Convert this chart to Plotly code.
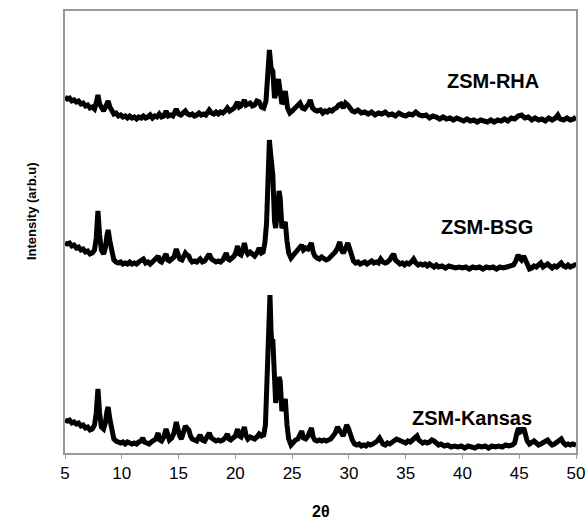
import plotly.graph_objects as go

# (2-theta, intensity) pairs; intensities are arb. units, vertically offset as drawn
rha_pts = [
    (5.0, 356), (5.2, 354), (5.4, 355), (5.6, 352), (5.8, 353), (6.0, 351), (6.2, 352), (6.4, 349), (6.6, 350),
    (6.8, 347), (7.0, 348), (7.2, 345), (7.4, 346), (7.6, 344), (7.75, 350), (7.9, 358), (8.05, 349), (8.2, 345),
    (8.4, 342), (8.6, 347), (8.8, 352), (8.95, 346), (9.1, 343), (9.3, 339), (9.5, 340), (9.7, 337), (9.9, 338),
    (10.1, 336), (10.3, 337), (10.5, 335), (10.7, 337), (10.9, 335), (11.1, 336), (11.3, 334), (11.5, 336),
    (11.7, 335), (11.9, 337), (12.1, 335), (12.3, 336), (12.5, 338), (12.7, 335), (12.9, 337), (13.1, 336),
    (13.3, 339), (13.5, 336), (13.7, 337), (13.9, 342), (14.1, 337), (14.3, 338), (14.5, 337), (14.8, 344),
    (15.0, 339), (15.2, 338), (15.4, 340), (15.6, 342), (15.8, 339), (16.0, 338), (16.2, 339), (16.4, 337),
    (16.6, 338), (16.8, 340), (17.0, 338), (17.2, 339), (17.4, 338), (17.7, 343), (17.9, 340), (18.1, 339),
    (18.3, 341), (18.5, 339), (18.7, 341), (18.9, 340), (19.1, 342), (19.3, 345), (19.5, 342), (19.7, 343),
    (19.9, 345), (20.05, 348), (20.2, 351), (20.35, 346), (20.5, 347), (20.8, 353), (20.95, 348), (21.1, 349),
    (21.3, 350), (21.5, 347), (21.7, 348), (21.9, 352), (22.1, 351), (22.3, 346), (22.5, 345), (22.7, 352),
    (22.85, 380), (23.0, 403), (23.15, 385), (23.3, 382), (23.45, 355), (23.6, 360), (23.8, 374), (23.95, 362),
    (24.1, 349), (24.25, 352), (24.4, 362), (24.6, 345), (24.8, 340), (25.0, 342), (25.2, 344), (25.4, 346),
    (25.7, 350), (25.9, 345), (26.1, 344), (26.3, 347), (26.45, 349), (26.6, 353), (26.8, 345), (27.0, 343),
    (27.2, 342), (27.5, 343), (27.7, 340), (27.9, 342), (28.1, 341), (28.3, 343), (28.5, 342),
    (28.7, 344), (28.9, 345), (29.1, 348), (29.3, 349), (29.5, 345), (29.7, 350), (29.9, 348), (30.1, 344),
    (30.3, 342), (30.5, 341), (30.8, 343), (31.1, 340), (31.4, 341), (31.7, 339), (32.0, 341), (32.3, 338),
    (32.6, 340), (32.9, 339), (33.2, 341), (33.5, 338), (33.8, 339), (34.1, 337), (34.4, 340), (34.7, 338),
    (35.0, 337), (35.3, 339), (35.6, 338), (35.9, 341), (36.2, 338), (36.5, 337), (36.8, 338), (37.1, 335),
    (37.4, 337), (37.7, 336), (38.0, 334), (38.3, 336), (38.6, 334), (38.9, 335), (39.2, 333), (39.5, 335),
    (39.8, 333), (40.1, 332), (40.4, 334), (40.7, 332), (41.0, 333), (41.3, 331), (41.6, 333), (41.9, 332),
    (42.2, 331), (42.5, 333), (42.8, 331), (43.1, 333), (43.4, 332), (43.7, 334), (44.0, 332), (44.3, 335),
    (44.6, 334), (44.9, 337), (45.2, 338), (45.5, 335), (45.8, 336), (46.1, 333), (46.4, 335), (46.7, 333),
    (47.0, 334), (47.3, 332), (47.6, 335), (47.9, 333), (48.2, 335), (48.4, 338), (48.6, 334), (48.9, 333),
    (49.2, 335), (49.5, 333), (49.8, 334), (50.0, 336),
]

bsg_pts = [
    (5.0, 210), (5.2, 209), (5.4, 210), (5.6, 207), (5.8, 208), (6.0, 205), (6.2, 206), (6.4, 203), (6.6, 204),
    (6.8, 201), (7.0, 202), (7.2, 199), (7.4, 200), (7.6, 203), (7.75, 215), (7.9, 242), (8.05, 218), (8.2, 203),
    (8.4, 199), (8.55, 205), (8.7, 218), (8.8, 223), (8.95, 212), (9.1, 201), (9.3, 193), (9.5, 191), (9.7, 190),
    (9.9, 191), (10.1, 189), (10.3, 190), (10.5, 189), (10.7, 191), (10.9, 189), (11.1, 190), (11.3, 189),
    (11.5, 191), (11.7, 192), (11.9, 194), (12.1, 190), (12.3, 191), (12.5, 189), (12.7, 191), (12.9, 192),
    (13.05, 195), (13.2, 197), (13.35, 192), (13.5, 191), (13.7, 194), (13.9, 199), (14.05, 193), (14.2, 192),
    (14.4, 194), (14.6, 196), (14.8, 204), (14.95, 197), (15.1, 194), (15.3, 193), (15.45, 197), (15.6, 200),
    (15.75, 198), (15.9, 197), (16.05, 193), (16.2, 191), (16.4, 192), (16.6, 191), (16.9, 194), (17.1, 191),
    (17.3, 192), (17.5, 195), (17.7, 199), (17.9, 194), (18.1, 192), (18.3, 191), (18.5, 192), (18.7, 191),
    (18.9, 193), (19.05, 196), (19.2, 200), (19.35, 194), (19.5, 193), (19.7, 195), (19.9, 197), (20.05, 201),
    (20.2, 207), (20.35, 199), (20.5, 198), (20.65, 203), (20.8, 210), (20.95, 202), (21.1, 199), (21.3, 201),
    (21.5, 198), (21.7, 197), (21.9, 200), (22.1, 205), (22.3, 200), (22.45, 201), (22.6, 210), (22.75, 230),
    (22.9, 280), (23.0, 313), (23.1, 300), (23.2, 285), (23.3, 278), (23.45, 232), (23.55, 225), (23.7, 242),
    (23.85, 262), (23.95, 255), (24.1, 225), (24.25, 228), (24.4, 231), (24.55, 212), (24.7, 200), (24.9, 195),
    (25.1, 198), (25.3, 201), (25.5, 203), (25.7, 207), (25.85, 208), (26.0, 203), (26.2, 205), (26.4, 204),
    (26.55, 207), (26.7, 210), (26.85, 201), (27.0, 197), (27.2, 195), (27.4, 194), (27.6, 196), (27.8, 195),
    (28.0, 193), (28.2, 194), (28.4, 196), (28.6, 199), (28.8, 201), (29.0, 205), (29.2, 211), (29.35, 203),
    (29.5, 200), (29.7, 204), (29.9, 210), (30.05, 205), (30.2, 197), (30.4, 192), (30.6, 190), (30.8, 191),
    (31.0, 189), (31.2, 190), (31.4, 191), (31.6, 189), (31.8, 191), (32.0, 192), (32.2, 190), (32.4, 191),
    (32.6, 190), (32.8, 194), (33.0, 191), (33.2, 190), (33.4, 191), (33.6, 193), (33.8, 197), (33.95, 199),
    (34.1, 193), (34.3, 191), (34.5, 189), (34.7, 190), (34.9, 188), (35.1, 190), (35.3, 189), (35.5, 191),
    (35.7, 194), (35.9, 190), (36.1, 188), (36.3, 189), (36.5, 188), (36.7, 189), (36.9, 187), (37.1, 189),
    (37.3, 188), (37.5, 186), (37.7, 188), (37.9, 186), (38.2, 187), (38.5, 185), (38.8, 187), (39.1, 186),
    (39.4, 185), (39.7, 186), (40.0, 185), (40.3, 186), (40.6, 184), (40.9, 186), (41.2, 185), (41.5, 186),
    (41.8, 184), (42.1, 186), (42.4, 185), (42.7, 186), (43.0, 184), (43.3, 186), (43.6, 185), (43.9, 186),
    (44.2, 187), (44.5, 188), (44.7, 192), (44.9, 198), (45.05, 195), (45.2, 193), (45.4, 197), (45.55, 192),
    (45.7, 188), (45.9, 184), (46.1, 185), (46.3, 187), (46.5, 186), (46.7, 189), (46.9, 190), (47.1, 186),
    (47.3, 187), (47.5, 189), (47.7, 187), (47.9, 185), (48.1, 187), (48.3, 186), (48.5, 188), (48.7, 190),
    (48.9, 187), (49.1, 186), (49.3, 188), (49.5, 186), (49.7, 187), (49.9, 188), (50.0, 187),
]

kansas_pts = [
    (5.0, 33), (5.2, 32), (5.4, 33), (5.6, 30), (5.8, 31), (6.0, 29), (6.2, 30), (6.4, 27), (6.6, 28), (6.8, 25),
    (7.0, 26), (7.2, 23), (7.4, 24), (7.6, 28), (7.75, 40), (7.9, 64), (8.05, 40), (8.2, 26), (8.4, 24),
    (8.55, 30), (8.7, 42), (8.8, 46), (8.95, 34), (9.1, 22), (9.3, 14), (9.5, 12), (9.7, 11), (9.9, 10),
    (10.1, 11), (10.3, 9), (10.5, 11), (10.7, 10), (10.9, 9), (11.1, 10), (11.3, 9), (11.5, 11), (11.7, 12),
    (11.85, 15), (12.0, 11), (12.2, 10), (12.4, 9), (12.6, 11), (12.8, 12), (13.0, 14), (13.2, 20), (13.35, 13),
    (13.5, 12), (13.7, 16), (13.9, 24), (14.05, 16), (14.2, 13), (14.4, 15), (14.6, 20), (14.8, 31), (14.95, 22),
    (15.1, 17), (15.25, 14), (15.4, 19), (15.6, 27), (15.75, 25), (15.9, 23), (16.05, 17), (16.2, 14),
    (16.4, 13), (16.6, 12), (16.9, 18), (17.1, 13), (17.3, 12), (17.5, 15), (17.7, 20), (17.9, 15), (18.1, 13),
    (18.3, 12), (18.5, 13), (18.7, 12), (18.9, 13), (19.1, 15), (19.3, 19), (19.45, 14), (19.6, 13), (19.8, 15),
    (20.0, 17), (20.2, 24), (20.35, 17), (20.5, 16), (20.65, 20), (20.8, 26), (20.95, 17), (21.1, 14),
    (21.3, 16), (21.5, 15), (21.7, 14), (21.9, 16), (22.1, 19), (22.3, 17), (22.5, 18), (22.65, 28), (22.8, 70),
    (22.95, 140), (23.05, 158), (23.15, 120), (23.25, 105), (23.3, 114), (23.45, 60), (23.55, 50), (23.7, 62),
    (23.85, 76), (23.95, 72), (24.1, 42), (24.25, 48), (24.4, 54), (24.55, 28), (24.7, 14), (24.9, 8),
    (25.1, 11), (25.3, 13), (25.5, 14), (25.7, 20), (25.85, 22), (26.0, 15), (26.2, 14), (26.4, 17),
    (26.55, 21), (26.7, 25), (26.85, 16), (27.0, 13), (27.2, 12), (27.4, 13), (27.6, 12), (27.8, 13),
    (28.0, 12), (28.2, 13), (28.4, 14), (28.6, 17), (28.8, 20), (29.0, 26), (29.15, 23), (29.3, 19),
    (29.5, 17), (29.65, 22), (29.8, 28), (29.95, 25), (30.1, 19), (30.3, 13), (30.5, 9), (30.7, 8), (30.9, 9),
    (31.1, 7), (31.3, 8), (31.5, 7), (31.7, 9), (31.9, 8), (32.1, 9), (32.3, 10), (32.5, 12), (32.7, 15),
    (32.85, 11), (33.0, 9), (33.2, 8), (33.4, 10), (33.6, 9), (33.8, 11), (34.0, 12), (34.2, 14), (34.4, 13),
    (34.6, 12), (34.8, 11), (35.0, 10), (35.2, 12), (35.4, 11), (35.6, 13), (35.8, 15), (36.0, 17),
    (36.15, 13), (36.3, 11), (36.5, 10), (36.7, 11), (36.9, 10), (37.1, 11), (37.3, 13), (37.5, 12),
    (37.7, 10), (37.9, 8), (38.1, 9), (38.4, 7), (38.7, 8), (39.0, 6), (39.3, 7), (39.6, 6), (39.9, 7),
    (40.2, 5), (40.5, 7), (40.8, 6), (41.1, 5), (41.4, 7), (41.7, 6), (42.0, 7), (42.3, 5), (42.6, 7),
    (42.9, 6), (43.2, 7), (43.5, 6), (43.8, 8), (44.1, 7), (44.4, 8), (44.6, 10), (44.8, 20), (44.95, 25),
    (45.1, 21), (45.25, 22), (45.4, 25), (45.55, 18), (45.7, 12), (45.9, 9), (46.1, 10), (46.3, 12),
    (46.5, 10), (46.7, 8), (46.9, 9), (47.1, 10), (47.3, 12), (47.5, 13), (47.7, 10), (47.9, 8), (48.1, 9),
    (48.3, 11), (48.5, 12), (48.7, 14), (48.9, 10), (49.1, 8), (49.3, 9), (49.5, 8), (49.7, 9), (49.9, 8),
    (50.0, 8),
]

x_ticks = [5, 10, 15, 20, 25, 30, 35, 40, 45, 50]
sample_names = ["ZSM-RHA", "ZSM-BSG", "ZSM-Kansas"]
label_x = [42.7, 42.2, 40.8]
label_y = [372, 226, 35]

FONT = "Liberation Sans, Arial, sans-serif"

fig = go.Figure()
for pts in [rha_pts, bsg_pts, kansas_pts]:
    xs = [p[0] for p in pts]
    ys = [p[1] for p in pts]
    fig.add_trace(go.Scatter(x=xs, y=ys, mode="lines",
                             line=dict(color="black", width=5),
                             showlegend=False, hoverinfo="skip"))

annotations = []
for name, lx, ly in zip(sample_names, label_x, label_y):
    annotations.append(dict(x=lx, y=ly, xref="x", yref="y", text="<b>%s</b>" % name,
                            showarrow=False, font=dict(family=FONT, size=20, color="black")))
annotations.append(dict(x=0.5, y=-0.133, xref="paper", yref="paper", text="<b>2θ</b>",
                        showarrow=False, font=dict(family=FONT, size=16, color="black"),
                        xanchor="center", yanchor="middle"))
annotations.append(dict(x=-0.0665, y=0.5475, xref="paper", yref="paper",
                        text="<b>Intensity (arb.u)</b>", textangle=-90,
                        xanchor="center", yanchor="middle",
                        showarrow=False, font=dict(family=FONT, size=13, color="black")))

fig.update_layout(
    width=587, height=519,
    margin=dict(l=65, r=11, t=11, b=66, autoexpand=False),
    paper_bgcolor="white", plot_bgcolor="white",
    font=dict(family=FONT, color="black"),
    annotations=annotations,
    xaxis=dict(range=[5, 50], tickvals=x_ticks, ticktext=[str(t) for t in x_ticks],
               ticks="outside", ticklen=4, tickcolor="#999", tickwidth=1,
               showline=True, linecolor="#999", linewidth=1.5, mirror=True, automargin=False,
               showgrid=False, zeroline=False, tickfont=dict(size=17, family=FONT)),
    yaxis=dict(range=[0, 442], showticklabels=False, ticks="", automargin=False,
               showline=True, linecolor="#999", linewidth=1.5, mirror=True,
               showgrid=False, zeroline=False),
)

fig.write_html("out.html", config={"displayModeBar": False},
               post_script="document.body.style.margin='0';document.body.style.overflow='hidden';")
